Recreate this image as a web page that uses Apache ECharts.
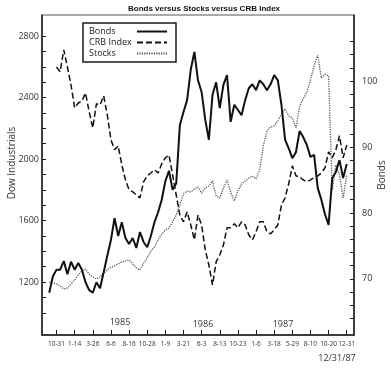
<!DOCTYPE html>
<html>
<head>
<meta charset="utf-8">
<script src="https://cdn.jsdelivr.net/npm/echarts@6/dist/echarts.min.js"></script>
<style>
html,body{margin:0;padding:0;background:#fff;}
#chart{width:391px;height:371px;}
</style>
</head>
<body>
<div id="chart"></div>
<script>
// Tick dates along the bottom axis (every 10 weeks)
const tickLabels = ['10-31','1-14','3-26','6-6','8-16','10-28','1-9','3-21','6-3','8-13','10-23','1-6','3-18','5-29','8-10','10-20','12-31'];
const yearLabels = ['1985','1986','1987'];
const dowTickLabels = [1200, 1600, 2000, 2400, 2800];
const bondTickLabels = [70, 80, 90, 100];

// Two-week sampling periods: 4 periods before the first tick, 5 per tick, 2 after the last
const periodsBefore = 4, periodsPerTick = 5, periodsAfter = 2;

// Bonds (right axis), two-week readings
const bonds = [null, null,
  67.9, 70.4, 71.4, 71.4, 72.7, 70.7, 72.6, 71.4, 72.4, 71.4,
  69.5, 68.3, 67.9, 69.5, 68.6, 71.0, 73.5, 75.9, 79.2, 76.5,
  78.6, 76.2, 75.3, 76.2, 74.7, 77.1, 75.6, 74.8, 76.5, 78.6,
  80.1, 82.0, 84.8, 86.4, 83.5, 84.5, 93.3, 95.3, 97.1, 101.7,
  104.4, 100.1, 98.3, 94.1, 91.1, 97.9, 99.8, 95.9, 99.4, 100.9,
  93.8, 96.4, 95.6, 94.8, 97.1, 98.9, 99.5, 98.6, 100.1, 99.5,
  98.6, 99.5, 100.9, 100.1, 96.4, 91.1, 89.8, 88.3, 89.2, 92.4,
  91.5, 90.3, 88.5, 88.8, 83.8, 82.0, 79.8, 78.2, 85.3, 86.2,
  88.0, 85.3, 87.4];

// CRB Index (own hidden scale)
const crb = [null, null, null, null,
  247.0, 245.8, 251.3, 247.0, 242.5, 236.8, 238.0, 238.5, 240.5, 235.8,
  231.8, 237.8, 237.5, 239.8, 235.0, 228.8, 226.3, 227.3, 222.5, 218.8,
  216.3, 215.8, 215.0, 214.3, 218.3, 219.8, 220.5, 221.3, 220.5, 222.8,
  224.3, 225.0, 220.0, 215.0, 210.0, 208.3, 210.8, 207.5, 203.8, 210.0,
  207.5, 201.3, 197.5, 192.5, 198.3, 200.0, 202.5, 206.8, 206.8, 207.8,
  206.8, 208.3, 207.5, 205.0, 203.8, 205.8, 208.3, 208.3, 205.8, 205.3,
  206.3, 207.5, 212.5, 214.3, 217.8, 222.3, 219.8, 219.5, 218.8, 218.3,
  218.8, 219.3, 219.8, 220.5, 221.8, 225.8, 224.3, 226.3, 229.8, 224.3,
  227.5];

// Stocks: Dow Industrials (left axis)
const stocks = [null, null,
  1201, 1194, 1188, 1175, 1155, 1162, 1188, 1214, 1246, 1272,
  1285, 1253, 1233, 1220, 1233, 1259, 1279, 1298, 1305, 1318,
  1331, 1337, 1344, 1318, 1292, 1279, 1324, 1357, 1402, 1428,
  1474, 1513, 1539, 1552, 1591, 1636, 1702, 1773, 1792, 1786,
  1805, 1818, 1779, 1812, 1825, 1858, 1760, 1747, 1812, 1864,
  1786, 1727, 1792, 1838, 1858, 1877, 1890, 1871, 1929, 2085,
  2183, 2209, 2215, 2248, 2293, 2326, 2280, 2267, 2202, 2345,
  2391, 2436, 2514, 2605, 2677, 2527, 2553, 2540, 1799, 1962,
  1896, 1747, 1896];

const nPeriods = periodsBefore + periodsPerTick * (tickLabels.length - 1) + 1 + periodsAfter;
const isTick = i => i >= periodsBefore && (i - periodsBefore) % periodsPerTick === 0;
const categories = [];
for (let i = 0; i < nPeriods; i++) {
  categories.push(isTick(i) ? tickLabels[(i - periodsBefore) / periodsPerTick] : '#' + i);
}
const range = (a, b, s) => { const r = []; for (let v = a; v <= b + 1e-9; v += s) r.push(v); return r; };

const ink = '#1a1a1a';
const font = 'Open Sans';

const chart = echarts.init(document.getElementById('chart'), null, {renderer: 'canvas'});
chart.setOption({
  animation: false,
  backgroundColor: '#fff',
  title: {
    text: 'Bonds versus Stocks versus CRB Index',
    left: 123, top: 0,
    textStyle: {fontSize: 8, fontWeight: 'bold', fontFamily: 'Liberation Sans', color: '#111'}
  },
  grid: {left: 42, right: 37, top: 15, bottom: 36, show: true, borderColor: '#555', borderWidth: 1},
  legend: {
    orient: 'vertical', left: 83, top: 23, align: 'right',
    itemGap: 2, itemWidth: 30, itemHeight: 9,
    padding: [4, 8, 4, 6],
    borderColor: ink, borderWidth: 1.5,
    itemStyle: {opacity: 0},
    formatter: name => '{t|' + name + '}',
    textStyle: {fontSize: 9, fontFamily: font, color: '#222',
      rich: {t: {fontSize: 9, fontFamily: font, color: '#222', width: 43, align: 'left'}}},
    data: ['Bonds', 'CRB Index', 'Stocks']
  },
  xAxis: {
    type: 'category', data: categories, boundaryGap: false,
    axisLine: {lineStyle: {color: ink, width: 1.5}},
    axisTick: {inside: true, length: 5, interval: i => isTick(i), lineStyle: {color: ink}},
    axisLabel: {interval: i => isTick(i), formatter: v => v.startsWith('#') ? '' : v,
      fontSize: 6.5, fontFamily: font, color: '#333', margin: 6},
    splitLine: {show: false}
  },
  yAxis: [
    {
      type: 'value', position: 'left', min: 856, max: 2937,
      axisLine: {show: true, lineStyle: {color: ink, width: 1.5}},
      axisTick: {show: true, inside: true, length: 4, customValues: range(1000, 2800, 100), lineStyle: {color: ink}},
      axisLabel: {customValues: dowTickLabels, formatter: v => String(v), fontSize: 9, fontFamily: font, color: '#333', margin: 3},
      splitLine: {show: false}
    },
    {
      type: 'value', position: 'right', min: 61.5, max: 110,
      axisLine: {show: true, lineStyle: {color: ink, width: 1.5}},
      axisTick: {show: true, inside: true, length: 4, customValues: range(64, 106, 2), lineStyle: {color: ink}},
      axisLabel: {customValues: bondTickLabels, formatter: v => String(v), fontSize: 9, fontFamily: font, color: '#333', margin: 8},
      splitLine: {show: false}
    },
    {type: 'value', min: 180, max: 260, show: false}
  ],
  graphic: [
    {type: 'text', x: 12, y: 163, rotation: Math.PI / 2,
      style: {text: 'Dow Industrials', fontSize: 10, fontFamily: font, fill: '#333', align: 'center', verticalAlign: 'middle'}},
    {type: 'text', x: 382, y: 175, rotation: Math.PI / 2,
      style: {text: 'Bonds', fontSize: 10, fontFamily: font, fill: '#333', align: 'center', verticalAlign: 'middle'}},
    {type: 'text', x: 120, y: 322, style: {text: yearLabels[0], fontSize: 9, fontFamily: font, fill: '#333', align: 'center', verticalAlign: 'middle'}},
    {type: 'text', x: 203, y: 324, style: {text: yearLabels[1], fontSize: 9, fontFamily: font, fill: '#333', align: 'center', verticalAlign: 'middle'}},
    {type: 'text', x: 283, y: 324, style: {text: yearLabels[2], fontSize: 9, fontFamily: font, fill: '#333', align: 'center', verticalAlign: 'middle'}},
    {type: 'text', x: 337, y: 358, style: {text: '12/31/87', fontSize: 9, fontFamily: font, fill: '#333', align: 'center', verticalAlign: 'middle'}}
  ],
  series: [
    {name: 'Bonds', type: 'line', yAxisIndex: 1, data: bonds, showSymbol: false, symbol: 'none',
      lineStyle: {color: '#111', width: 2}, itemStyle: {color: '#111'}, z: 4},
    {name: 'CRB Index', type: 'line', yAxisIndex: 2, data: crb, showSymbol: false, symbol: 'none',
      lineStyle: {color: '#111', width: 1.5, type: [6, 3]}, itemStyle: {color: '#111'}, z: 3},
    {name: 'Stocks', type: 'line', yAxisIndex: 0, data: stocks, showSymbol: false, symbol: 'none',
      lineStyle: {color: '#555', width: 1.3, type: [1.2, 1.2]}, itemStyle: {color: '#555'}, z: 2}
  ]
});
</script>
</body>
</html>
